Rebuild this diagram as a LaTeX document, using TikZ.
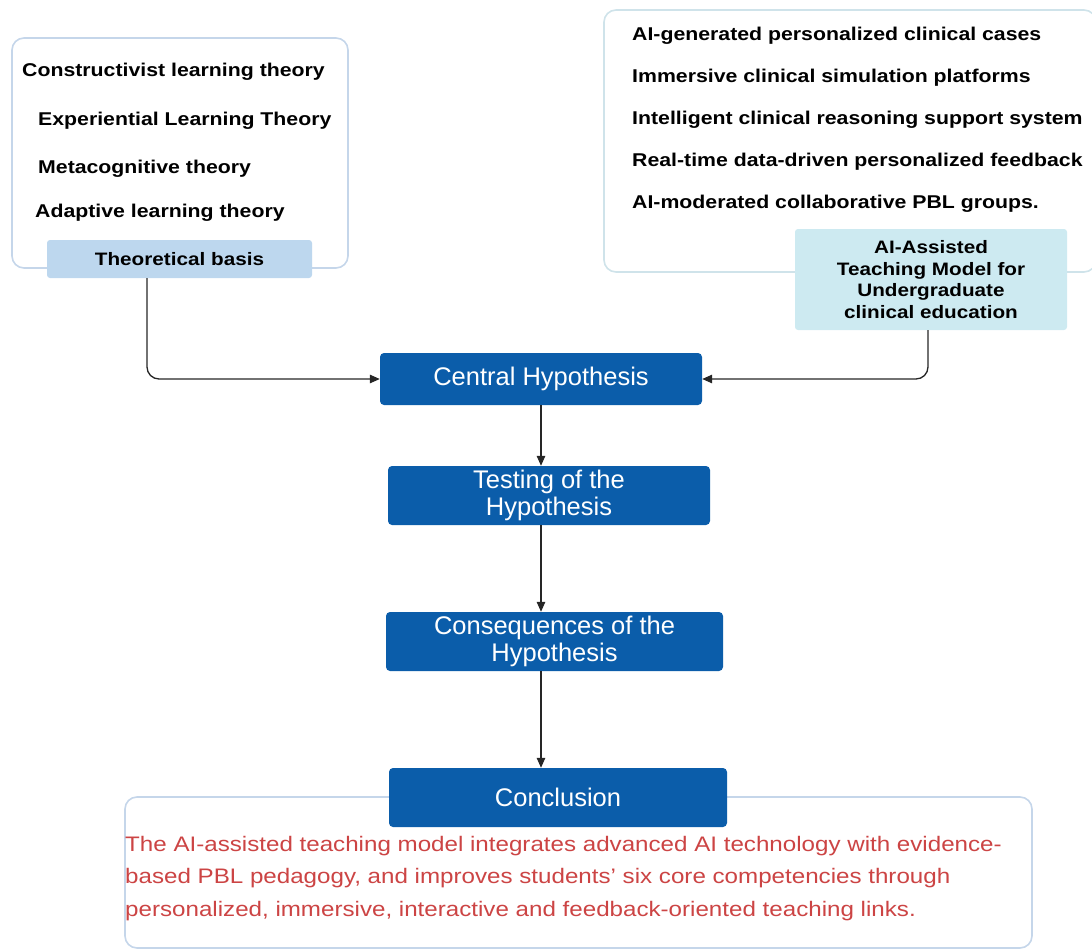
\documentclass[tikz,border=0pt]{standalone}
\usepackage{fontspec}
\setmainfont{Liberation Sans}
\newfontfamily\widesans[FakeStretch=1.15,Ligatures=TeX]{Liberation Sans}
\usepackage{xcolor}
\usepackage{tikz}
\usetikzlibrary{shapes,arrows.meta,positioning}

\definecolor{hypblue}{HTML}{0B5DAA}
\definecolor{basisfill}{HTML}{BDD7EE}
\definecolor{aifill}{HTML}{CDEAF1}
\definecolor{frameline}{HTML}{C5D6EA}
\definecolor{aiframe}{HTML}{CFE3EA}
\definecolor{conctext}{HTML}{CC4444}

\tikzset{
  frame/.style={draw=frameline, line width=1.6pt, rounded corners=12pt, fill=white},
  hypbox/.style={fill=hypblue, rounded corners=4pt, text=white, align=center,
    font=\fontsize{25.5}{26.5}\selectfont},
  tagbox/.style={rounded corners=3pt, align=center, font=\widesans\fontsize{18}{21.5}\selectfont\bfseries},
  item/.style={anchor=west, inner sep=0pt, font=\widesans\fontsize{18.5}{20}\selectfont\bfseries},
  arr/.style={draw=black!85, line width=1.3pt, -{Triangle[length=10pt,width=8.5pt]}},
}

\begin{document}
\begin{tikzpicture}[x=1pt,y=-1pt]

\useasboundingbox (0,0) rectangle (1092,950);

% frames behind the labels
\node[frame, minimum width=336pt, minimum height=230pt] (theoryframe) at (180,153) {};
\node[frame, draw=aiframe, minimum width=492pt, minimum height=262pt] (aiframe) at (850,141) {};
\node[frame, minimum width=907pt, minimum height=151pt] (concframe) at (578.5,872.5) {};

% theories
\node[item] (t1) at (22,72) {Constructivist learning theory};
\node[item] (t2) at (38,121) {Experiential Learning Theory};
\node[item] (t3) at (38,169) {Metacognitive theory};
\node[item] (t4) at (35,213) {Adaptive learning theory};

% AI elements
\node[item] (a1) at (632,36) {AI-generated personalized clinical cases};
\node[item] (a2) at (632,78) {Immersive clinical simulation platforms};
\node[item] (a3) at (632,120) {Intelligent clinical reasoning support system};
\node[item] (a4) at (632,162) {Real-time data-driven personalized feedback};
\node[item] (a5) at (632,204) {AI-moderated collaborative PBL groups.};

\node[tagbox, fill=basisfill, minimum width=265pt, minimum height=38pt] (basis) at (179.5,259) {Theoretical basis};
\node[tagbox, fill=aifill, minimum width=272pt, minimum height=101pt] (ai) at (931,279.5)
  {AI-Assisted\\Teaching Model for\\Undergraduate\\clinical education};

% main chain
\node[hypbox, minimum width=322pt, minimum height=52pt] (central) at (541,379) {Central Hypothesis};
\node[hypbox, minimum width=322pt, minimum height=59pt] (testing) at (549,495.5) {Testing of the\\Hypothesis};
\node[hypbox, minimum width=337pt, minimum height=59pt] (conseq) at (554.5,641.5) {Consequences of the\\Hypothesis};
\node[hypbox, minimum width=338pt, minimum height=59pt] (concl) at (558,797.5) {Conclusion};

\node[anchor=north west, inner sep=0pt, align=left, text=conctext,
  font=\widesans\fontsize{21}{32.5}\selectfont] (conctxt) at (125,836)
  {The AI-assisted teaching model integrates advanced AI technology with evidence-\\
   based PBL pedagogy, and improves students' six core competencies through\\
   personalized, immersive, interactive and feedback-oriented teaching links.};

\coordinate (bout) at ([xshift=-32.5pt]basis.south);
\coordinate (aout) at ([xshift=-3pt]ai.south);

\draw[arr, rounded corners=12pt] (bout) |- (central.west);
\draw[arr, rounded corners=12pt] (aout) |- (central.east);
\draw[arr] (central.south) -- (central.south |- testing.north);
\draw[arr] (central.south |- testing.south) -- (central.south |- conseq.north);
\draw[arr] (central.south |- conseq.south) -- (central.south |- concl.north);

\end{tikzpicture}
\end{document}
